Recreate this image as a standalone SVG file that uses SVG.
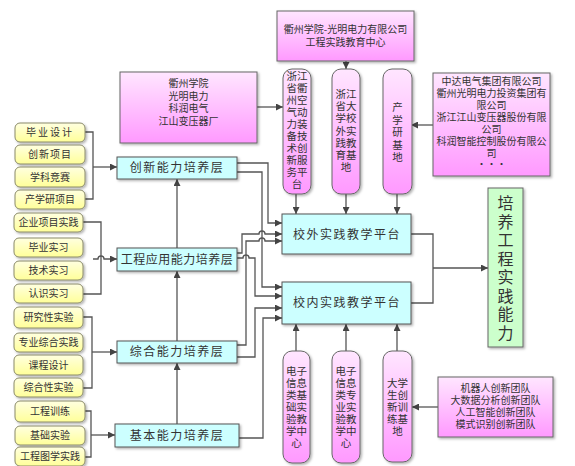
<svg xmlns="http://www.w3.org/2000/svg" width="575" height="466" viewBox="0 0 575 466">
<style>
text{font-family:"Noto Sans CJK SC","Noto Sans",sans-serif;fill:#333;text-anchor:middle;}
.y{fill:url(#gy);stroke:#8a8a6a;stroke-width:1;}
.c{fill:#ccffff;stroke:#555;stroke-width:1;}
.p{fill:url(#gp);stroke:#666;stroke-width:1;}
.g{fill:#ccffcc;stroke:#666;stroke-width:1;}
.ty{font-size:10px;}
.tc{font-size:12px;letter-spacing:1.5px;}
.tp{font-size:10px;}
.tv{font-size:10.5px;}
.ln{fill:none;stroke:#555;stroke-width:1.3;}
.ar{fill:none;stroke:#555;stroke-width:1.3;marker-end:url(#ah);}
</style>
<defs>
<linearGradient id="gy" x1="0" y1="0" x2="0" y2="1"><stop offset="0" stop-color="#ffffe0"/><stop offset="1" stop-color="#ffff99"/></linearGradient>
<linearGradient id="gp" x1="0" y1="0" x2="0" y2="1"><stop offset="0" stop-color="#ffe6ff"/><stop offset="1" stop-color="#ff99ff"/></linearGradient>
<marker id="ah" viewBox="0 0 10 10" refX="10" refY="5" markerWidth="7" markerHeight="7" markerUnits="userSpaceOnUse" orient="auto"><path d="M0,0 L10,5 L0,10 z" fill="#444"/></marker>
<filter id="sh" x="-10%" y="-10%" width="130%" height="130%"><feDropShadow dx="1.5" dy="1.5" stdDeviation="0.8" flood-color="#000" flood-opacity="0.3"/></filter>
</defs>
<rect width="575" height="466" fill="#fff"/>

<g id="connectors">
<path class="ln" d="M85,132 H93 V199 H85"/>
<path class="ar" d="M93,167 H117"/>
<path class="ln" d="M83,222 H101 V294 H83"/>
<path class="ar" d="M93,259 H98 a3,3 0 0 1 6,0 H117"/>
<path class="ln" d="M83,317 H92 V388 H83"/>
<path class="ar" d="M92,352 H117"/>
<path class="ln" d="M85,411 H91 V457 H85"/>
<path class="ar" d="M91,435 H115"/>
<path class="ar" d="M177,424 V363"/>
<path class="ar" d="M177,341 V271"/>
<path class="ar" d="M177,248 V179"/>
<path class="ar" d="M346,61 V69"/>
<path class="ar" d="M257,107 H283"/>
<path class="ar" d="M433,125 H411"/>
<path class="ar" d="M296,194 V214"/>
<path class="ar" d="M346,194 V214"/>
<path class="ar" d="M397,194 V214"/>
<path class="ar" d="M296,351 V324"/>
<path class="ar" d="M346,351 V324"/>
<path class="ar" d="M397,351 V324"/>
<path class="ar" d="M438,407 H412"/>
<path class="ln" d="M411,234 H433 V303 H411"/>
<path class="ar" d="M433,268 H488"/>
<path class="ar" d="M237,163 H268 V223 H282"/>
<path class="ar" d="M237,172 H262 V287 H282"/>
<path class="ar" d="M237,253 H242 V234 H259 a3,3 0 0 1 6,0 H282"/>
<path class="ar" d="M237,345 H246 V241 H259 a3,3 0 0 1 6,0 H282"/>
<path class="ar" d="M237,258 H243 a3,3 0 0 1 6,0 H255 V296 H282"/>
<path class="ar" d="M237,357 H255 V308 H282"/>
<path class="ar" d="M239,438 H263 V318 H282"/>
</g>

<g id="y1"><rect class="y" x="15" y="123" width="70" height="19" rx="5" filter="url(#sh)"/><text class="ty" x="50" y="136" style="letter-spacing:2px">毕业设计</text></g>
<g id="y2"><rect class="y" x="15" y="145" width="70" height="19" rx="5" filter="url(#sh)"/><text class="ty" x="50" y="158" style="letter-spacing:1px">创新项目</text></g>
<g id="y3"><rect class="y" x="15" y="167" width="70" height="20" rx="5" filter="url(#sh)"/><text class="ty" x="50" y="181">学科竞赛</text></g>
<g id="y4"><rect class="y" x="15" y="190" width="70" height="19" rx="5" filter="url(#sh)"/><text class="ty" x="50" y="203">产学研项目</text></g>
<g id="y5"><rect class="y" x="14" y="213" width="69" height="19" rx="5" filter="url(#sh)"/><text class="ty" x="48.5" y="226">企业项目实践</text></g>
<g id="y6"><rect class="y" x="14" y="238" width="69" height="19" rx="5" filter="url(#sh)"/><text class="ty" x="48.5" y="251">毕业实习</text></g>
<g id="y7"><rect class="y" x="14" y="261" width="69" height="19" rx="5" filter="url(#sh)"/><text class="ty" x="48.5" y="274">技术实习</text></g>
<g id="y8"><rect class="y" x="14" y="284" width="69" height="19" rx="5" filter="url(#sh)"/><text class="ty" x="48.5" y="297">认识实习</text></g>
<g id="y9"><rect class="y" x="14" y="307" width="69" height="21" rx="5" filter="url(#sh)"/><text class="ty" x="48.5" y="321">研究性实验</text></g>
<g id="y10"><rect class="y" x="14" y="333" width="69" height="19" rx="5" filter="url(#sh)"/><text class="ty" x="48.5" y="346">专业综合实践</text></g>
<g id="y11"><rect class="y" x="14" y="355" width="69" height="20" rx="5" filter="url(#sh)"/><text class="ty" x="48.5" y="369">课程设计</text></g>
<g id="y12"><rect class="y" x="14" y="378" width="69" height="19" rx="5" filter="url(#sh)"/><text class="ty" x="48.5" y="391">综合性实验</text></g>
<g id="y13"><rect class="y" x="15" y="401" width="70" height="21" rx="5" filter="url(#sh)"/><text class="ty" x="50" y="415">工程训练</text></g>
<g id="y14"><rect class="y" x="15" y="426" width="70" height="19" rx="5" filter="url(#sh)"/><text class="ty" x="50" y="439">基础实验</text></g>
<g id="y15"><rect class="y" x="15" y="447" width="70" height="19" rx="5" filter="url(#sh)"/><text class="ty" x="50" y="460">工程图学实践</text></g>

<g id="l1"><rect class="c" x="117" y="157" width="120" height="22" filter="url(#sh)"/><text class="tc" x="177" y="172">创新能力培养层</text></g>
<g id="l2"><rect class="c" x="117" y="248" width="120" height="23" filter="url(#sh)"/><text class="tc" x="177" y="264" style="letter-spacing:0.5px">工程应用能力培养层</text></g>
<g id="l3"><rect class="c" x="117" y="341" width="120" height="22" filter="url(#sh)"/><text class="tc" x="177" y="356">综合能力培养层</text></g>
<g id="l4"><rect class="c" x="115" y="424" width="124" height="23" filter="url(#sh)"/><text class="tc" x="177" y="440">基本能力培养层</text></g>

<g id="top"><rect class="p" x="277" y="11" width="137" height="50" filter="url(#sh)"/><text class="tp" x="345.5" y="33">衢州学院-光明电力有限公司</text><text class="tp" x="345.5" y="46">工程实践教育中心</text></g>
<g id="lefttop"><rect class="p" x="120" y="72" width="137" height="71" filter="url(#sh)"/><text class="tp" x="188.5" y="87">衢州学院</text><text class="tp" x="188.5" y="99.5">光明电力</text><text class="tp" x="188.5" y="112">科润电气</text><text class="tp" x="188.5" y="124.5">江山变压器厂</text></g>
<g id="righttop"><rect class="p" x="433" y="73" width="117" height="103" filter="url(#sh)"/><text class="tp" x="491.5" y="85">中达电气集团有限公司</text><text class="tp" x="491.5" y="97">衢州光明电力投资集团有</text><text class="tp" x="491.5" y="109">限公司</text><text class="tp" x="491.5" y="121">浙江江山变压器股份有限</text><text class="tp" x="491.5" y="133">公司</text><text class="tp" x="491.5" y="145">科润智能控制股份有限公</text><text class="tp" x="491.5" y="157">司</text><text class="tp" x="491.5" y="168">···</text></g>

<g id="pt1"><rect class="p" x="283" y="69" width="28" height="125" rx="9" filter="url(#sh)"/><text class="tv" x="297"><tspan x="297" y="80">浙江</tspan><tspan x="297" dy="12">省衢</tspan><tspan x="297" dy="12">州空</tspan><tspan x="297" dy="12">气动</tspan><tspan x="297" dy="12">力装</tspan><tspan x="297" dy="12">备技</tspan><tspan x="297" dy="12">术创</tspan><tspan x="297" dy="12">新服</tspan><tspan x="297" dy="12">务平</tspan><tspan x="297" dy="12">台</tspan></text></g>
<g id="pt2"><rect class="p" x="332" y="69" width="28" height="125" rx="9" filter="url(#sh)"/><text class="tv" x="346"><tspan x="346" y="98">浙江</tspan><tspan x="346" dy="12.2">省大</tspan><tspan x="346" dy="12.2">学校</tspan><tspan x="346" dy="12.2">外实</tspan><tspan x="346" dy="12.2">践教</tspan><tspan x="346" dy="12.2">育基</tspan><tspan x="346" dy="12.2">地</tspan></text></g>
<g id="pt3"><rect class="p" x="383" y="69" width="29" height="125" rx="9" filter="url(#sh)"/><text class="tv" x="397.5"><tspan x="397.5" y="111">产</tspan><tspan x="397.5" dy="12.5">学</tspan><tspan x="397.5" dy="12.5">研</tspan><tspan x="397.5" dy="12.5">基</tspan><tspan x="397.5" dy="12.5">地</tspan></text></g>

<g id="out"><rect class="c" x="282" y="214" width="129" height="40" filter="url(#sh)"/><text class="tc" x="347" y="238.5">校外实践教学平台</text></g>
<g id="in"><rect class="c" x="282" y="282" width="129" height="42" filter="url(#sh)"/><text class="tc" x="347" y="307">校内实践教学平台</text></g>

<g id="goal"><rect class="g" x="488" y="188" width="35" height="159" filter="url(#sh)"/><text x="505.5" style="font-size:16px"><tspan x="505.5" y="209">培</tspan><tspan x="505.5" dy="18.5">养</tspan><tspan x="505.5" dy="18.5">工</tspan><tspan x="505.5" dy="18.5">程</tspan><tspan x="505.5" dy="18.5">实</tspan><tspan x="505.5" dy="18.5">践</tspan><tspan x="505.5" dy="18.5">能</tspan><tspan x="505.5" dy="18.5">力</tspan></text></g>

<g id="pb1"><rect class="p" x="283" y="351" width="27" height="112" rx="9" filter="url(#sh)"/><text class="tv" x="296.5"><tspan x="296.5" y="375">电子</tspan><tspan x="296.5" dy="12">信息</tspan><tspan x="296.5" dy="12">类基</tspan><tspan x="296.5" dy="12">础实</tspan><tspan x="296.5" dy="12">验教</tspan><tspan x="296.5" dy="12">学中</tspan><tspan x="296.5" dy="12">心</tspan></text></g>
<g id="pb2"><rect class="p" x="332" y="351" width="28" height="112" rx="9" filter="url(#sh)"/><text class="tv" x="346"><tspan x="346" y="375">电子</tspan><tspan x="346" dy="12">信息</tspan><tspan x="346" dy="12">类专</tspan><tspan x="346" dy="12">业实</tspan><tspan x="346" dy="12">验教</tspan><tspan x="346" dy="12">学中</tspan><tspan x="346" dy="12">心</tspan></text></g>
<g id="pb3"><rect class="p" x="383" y="351" width="29" height="111" rx="9" filter="url(#sh)"/><text class="tv" x="397.5"><tspan x="397.5" y="387">大学</tspan><tspan x="397.5" dy="12">生创</tspan><tspan x="397.5" dy="12">新训</tspan><tspan x="397.5" dy="12">练基</tspan><tspan x="397.5" dy="12">地</tspan></text></g>

<g id="teams"><rect class="p" x="438" y="377" width="115" height="60" filter="url(#sh)"/><text class="tp" x="495.5" y="392">机器人创新团队</text><text class="tp" x="495.5" y="404">大数据分析创新团队</text><text class="tp" x="495.5" y="416">人工智能创新团队</text><text class="tp" x="495.5" y="428">模式识别创新团队</text></g>
</svg>
